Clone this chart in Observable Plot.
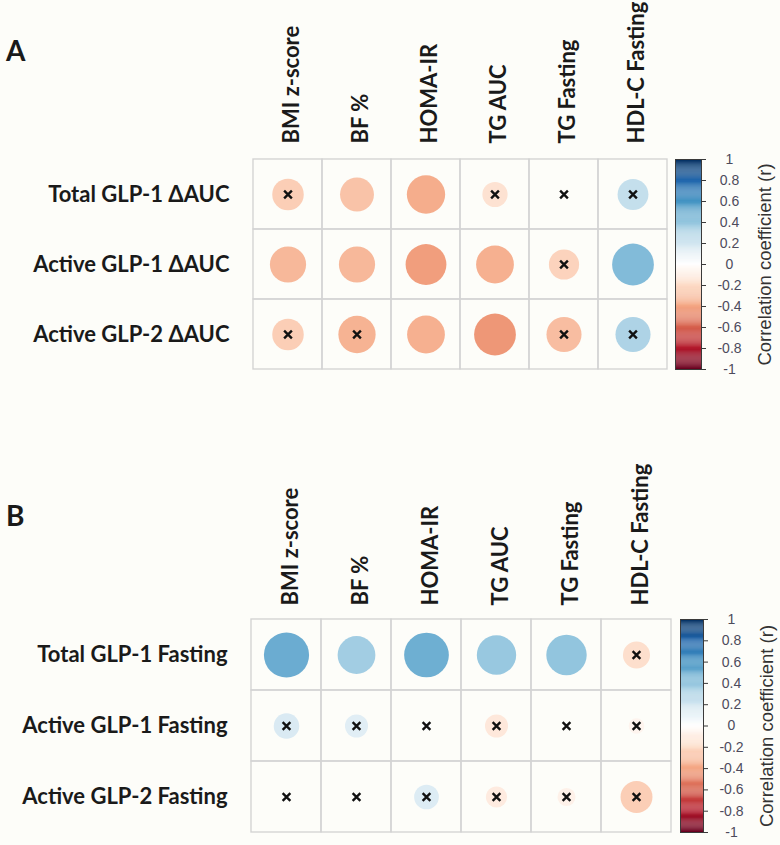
<!DOCTYPE html>
<html>
<head>
<meta charset="utf-8">
<script src="https://cdn.jsdelivr.net/npm/d3@7"></script>
<script src="https://cdn.jsdelivr.net/npm/@observablehq/plot@0.6"></script>
<style>
  html, body { margin: 0; padding: 0; background: #fdfdf9; }
  #root { position: relative; width: 780px; height: 845px; overflow: hidden; font-family: Lato, "DejaVu Sans", sans-serif; }
  .abs { position: absolute; }
  .panel { font-weight: bold; font-size: 28px; color: #1a1a1a; }
</style>
</head>
<body>
<div id="root"></div>
<script>
// ---- data ----
const metrics = ["BMI z-score", "BF %", "HOMA-IR", "TG AUC", "TG Fasting", "HDL-C Fasting"];

const rowsA = ["Total GLP-1 ΔAUC", "Active GLP-1 ΔAUC", "Active GLP-2 ΔAUC"];
const rA_totalGLP1 = [-0.25, -0.29, -0.37, -0.16, -0.02, 0.24];
const rA_activeGLP1 = [-0.33, -0.33, -0.42, -0.36, -0.23, 0.44];
const rA_activeGLP2 = [-0.25, -0.35, -0.36, -0.44, -0.31, 0.31];
const nsA_totalGLP1 = [true, false, false, true, true, true];
const nsA_activeGLP1 = [false, false, false, false, true, false];
const nsA_activeGLP2 = [true, true, false, false, true, true];

const rowsB = ["Total GLP-1 Fasting", "Active GLP-1 Fasting", "Active GLP-2 Fasting"];
const rB_totalGLP1 = [0.50, 0.35, 0.49, 0.38, 0.40, -0.18];
const rB_activeGLP1 = [0.16, 0.13, 0.02, -0.13, 0.01, -0.06];
const rB_activeGLP2 = [0.01, 0.01, 0.15, -0.11, -0.08, -0.25];
const nsB_totalGLP1 = [false, false, false, false, false, true];
const nsB_activeGLP1 = [true, true, true, true, true, true];
const nsB_activeGLP2 = [true, true, true, true, true, true];

const legendTicks = [1, 0.8, 0.6, 0.4, 0.2, 0, -0.2, -0.4, -0.6, -0.8, -1];
const legendTitle = "Correlation coefficient (r)";

// ---- color scale (corrplot default ramp) ----
const paletteDomain = [-1, -0.8, -0.6, -0.4, -0.2, 0, 0.2, 0.4, 0.6, 0.8, 1];
const paletteRange = ["#67001F", "#B2182B", "#D6604D", "#F4A582", "#FDDBC7", "#FFFFFF",
                      "#D1E5F0", "#92C5DE", "#4393C3", "#2166AC", "#053061"];
const colorScale = {type: "linear", domain: paletteDomain, range: paletteRange};

function buildRows(rows, rVals, nsVals) {
  const out = [];
  rows.forEach((row, i) => {
    metrics.forEach((m, j) => out.push({row, col: m, r: rVals[i][j], ns: nsVals[i][j]}));
  });
  return out;
}

const dataA = buildRows(rowsA, [rA_totalGLP1, rA_activeGLP1, rA_activeGLP2], [nsA_totalGLP1, nsA_activeGLP1, nsA_activeGLP2]);
const dataB = buildRows(rowsB, [rB_totalGLP1, rB_activeGLP1, rB_activeGLP2], [nsB_totalGLP1, nsB_activeGLP1, nsB_activeGLP2]);

const root = document.getElementById("root");

function place(node, left, top) {
  node.classList.add("abs");
  node.style.left = left + "px";
  node.style.top = top + "px";
  root.appendChild(node);
}

function matrix(data, rows, opts) {
  const {mLeft, gridW, gridH, mTop, labelPad, cell} = opts;
  return Plot.plot({
    width: mLeft + gridW + 8,
    height: mTop + gridH + 6,
    marginLeft: mLeft,
    marginRight: 8,
    marginTop: mTop,
    marginBottom: 6,
    style: {fontFamily: "Lato, 'DejaVu Sans', sans-serif", background: "transparent", overflow: "visible"},
    x: {domain: metrics, padding: 0, axis: null},
    y: {domain: rows, padding: 0, axis: null},
    r: {type: "sqrt", domain: [0, 1], range: [0, cell * 0.45]},
    color: colorScale,
    marks: [
      Plot.cell(data, {x: "col", y: "row", fill: "none", stroke: "#d4d4d4", strokeWidth: 1.4}),
      Plot.dot(data, {x: "col", y: "row", r: d => Math.abs(d.r), fill: "r", stroke: "none"}),
      Plot.dot(data.filter(d => d.ns), {x: "col", y: "row", symbol: "times", r: 3.6, stroke: "#111", strokeWidth: 2.4}),
      Plot.axisX({anchor: "top", tickSize: 0, tickPadding: labelPad, tickRotate: -90, fontSize: 22, fontWeight: "bold", fill: "#1a1a1a", label: null, dx: 4}),
      Plot.axisY({anchor: "left", tickSize: 0, tickPadding: 22, fontSize: 22, fontWeight: "bold", fill: "#1a1a1a", label: null})
    ]
  });
}

function colorbar(barW, barH) {
  const stops = d3.range(-1, 1, 0.01);
  return Plot.plot({
    width: 120,
    height: barH + 20,
    marginLeft: 10,
    marginRight: 120 - 10 - barW,
    marginTop: 10,
    marginBottom: 10,
    style: {fontFamily: "'Liberation Sans', Arial, sans-serif", background: "transparent"},
    x: {domain: [0, 1], axis: null},
    y: {domain: [-1, 1], axis: null},
    color: colorScale,
    marks: [
      Plot.rect(stops, {x1: 0, x2: 1, y1: d => d, y2: d => Math.min(1, d + 0.0105), fill: d => d + 0.005}),
      Plot.frame({stroke: "#3a3a3a", strokeWidth: 1}),
      Plot.ruleY(legendTicks, {y: d => d, x1: 1, x2: 1 + 5 / barW, stroke: "#3a3a3a", strokeWidth: 1}),
      Plot.text(legendTicks, {y: d => d, x: 1, dx: 28, text: d => String(d), textAnchor: "middle", fontSize: 14, fill: "#4d4b5c"}),
      Plot.text([legendTitle], {x: 1, y: 0, dx: 64, rotate: -90, fontSize: 18.5, fill: "#333", textAnchor: "middle"})
    ]
  });
}

// Panel A
const lblA = document.createElement("div");
lblA.className = "panel";
lblA.textContent = "A";
place(lblA, 6, 33);
place(matrix(dataA, rowsA, {mLeft: 251, gridW: 418, gridH: 210, mTop: 159, labelPad: 16, cell: 70}), 0, 0);
place(colorbar(26, 210), 665, 149);

// Panel B
const lblB = document.createElement("div");
lblB.className = "panel";
lblB.textContent = "B";
place(lblB, 6, 498);
place(matrix(dataB, rowsB, {mLeft: 249, gridW: 424, gridH: 213, mTop: 159, labelPad: 14, cell: 71}), 0, 460);
place(colorbar(23, 213), 670, 609);
</script>
</body>
</html>
